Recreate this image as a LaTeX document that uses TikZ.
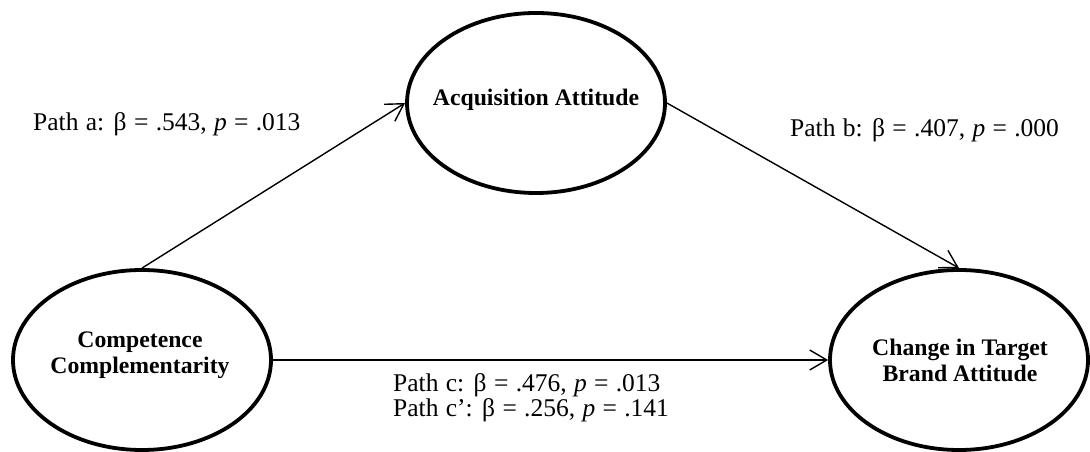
\documentclass[tikz,border=0pt]{standalone}
\usepackage{fontspec}
\setmainfont{Liberation Serif}
\newfontfamily\lblfont[WordSpace=1.15]{Liberation Serif}
\usetikzlibrary{shapes.geometric,arrows.meta}
\begin{document}
\begin{tikzpicture}[x=1bp,y=-1bp,
  latent/.style={draw,ellipse,line width=3.8bp,minimum width=258bp,minimum height=180bp,inner sep=0pt},
  ltext/.style={align=center,inner sep=0pt,font=\fontsize{23.7bp}{26bp}\selectfont\bfseries},
  conn/.style={line width=1.4bp,-{Straight Barb[length=17bp,width=20bp,line width=1.4bp]}},
  lbl/.style={inner sep=0pt,font=\lblfont\fontsize{25.5bp}{25bp}\selectfont,anchor=base west,align=left}]
\useasboundingbox (0,0) rectangle (1090,452);
\node[latent] (aa) at (536,103) {};
\node[ltext] (aat) at (536,100) {Acquisition Attitude};
\node[latent] (cc) at (142,360) {};
\node[ltext] (cct) at (140,355) {Competence\\Complementarity};
\node[latent] (ct) at (959,360) {};
\node[ltext] (ctt) at (960,360) {Change in Target\\Brand Attitude};
\draw[conn] (cc.north) -- (aa.west);
\draw[conn] (aa.east) -- (ct.north);
\draw[conn] (cc.east) -- (ct.west);
\node[lbl] (la) at (33,131) {Path a: β = .543, \textit{p} = .013};
\node[lbl] (lb) at (790,137) {Path b: β = .407, \textit{p} = .000};
\node[lbl] (lc) at (393,392) {Path c: β = .476, \textit{p} = .013};
\node[lbl] (lc2) at (393,417) {Path c’: β = .256, \textit{p} = .141};
\end{tikzpicture}
\end{document}
